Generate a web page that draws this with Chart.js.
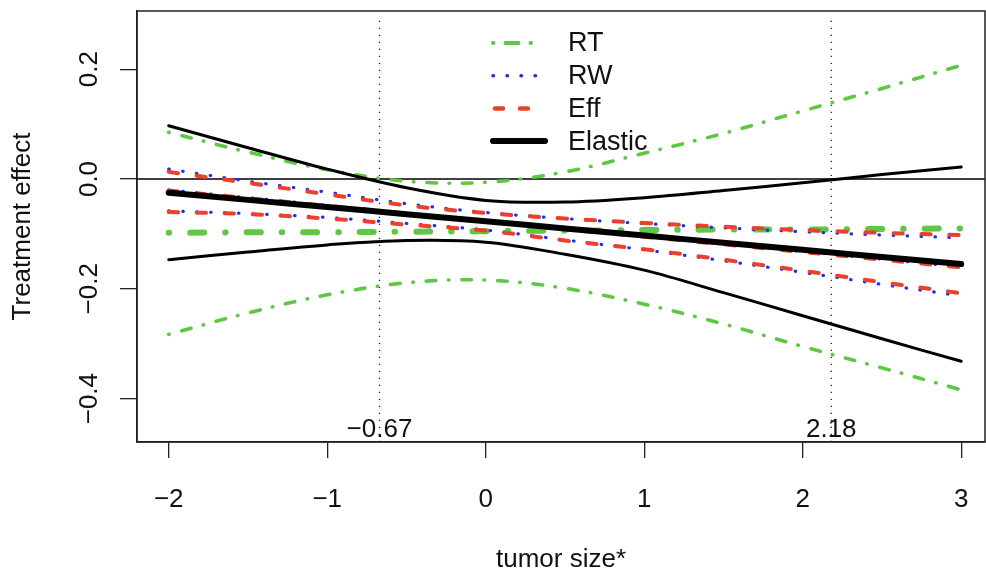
<!DOCTYPE html>
<html>
<head>
<meta charset="utf-8">
<script src="https://cdn.jsdelivr.net/npm/chart.js@4.4.0/dist/chart.umd.min.js"></script>
<style>
  html, body { margin: 0; padding: 0; background: #fff; }
  canvas { display: block; }
</style>
</head>
<body>
<canvas id="effectChart" width="986" height="570"></canvas>
<script>
// values
const tumorSize = [-2, -1.5, -1, -0.5, 0, 0.5, 1, 1.5, 2, 2.5, 3];

const rtMid = [-0.098, -0.097, -0.097, -0.096, -0.095, -0.094, -0.093, -0.092, -0.092, -0.091, -0.090];
const rtUp  = [0.085, 0.049, 0.017, -0.004, -0.006, 0.013, 0.047, 0.083, 0.124, 0.165, 0.207];
const rtLow = [-0.283, -0.244, -0.211, -0.189, -0.184, -0.199, -0.228, -0.264, -0.305, -0.344, -0.384];

const rwMid = [-0.020, -0.034, -0.048, -0.062, -0.076, -0.090, -0.104, -0.118, -0.132, -0.146, -0.160];
const rwUp  = [0.018, -0.004, -0.024, -0.045, -0.061, -0.072, -0.081, -0.089, -0.096, -0.102, -0.107];
const rwLow = [-0.058, -0.063, -0.070, -0.081, -0.093, -0.111, -0.129, -0.149, -0.170, -0.192, -0.213];

const effMid = [-0.021, -0.035, -0.049, -0.063, -0.077, -0.091, -0.105, -0.119, -0.133, -0.147, -0.161];
const effUp  = [0.013, -0.007, -0.028, -0.048, -0.062, -0.072, -0.080, -0.087, -0.093, -0.098, -0.102];
const effLow = [-0.060, -0.064, -0.072, -0.083, -0.094, -0.112, -0.128, -0.147, -0.167, -0.188, -0.208];

const elMid = [-0.025, -0.038, -0.051, -0.064, -0.077, -0.090, -0.103, -0.116, -0.129, -0.142, -0.155];
const elUp  = [0.097, 0.057, 0.018, -0.016, -0.039, -0.042, -0.034, -0.021, -0.007, 0.008, 0.022];
const elLow = [-0.147, -0.133, -0.120, -0.112, -0.115, -0.137, -0.166, -0.207, -0.249, -0.291, -0.332];

const cutoffs = [-0.67, 2.18];
const cutoffLabels = ["\u22120.67", "2.18"];

const xTicks = [-2, -1, 0, 1, 2, 3];
const yTicks = [-0.4, -0.2, 0, 0.2];
const xRange = [-2.2, 3.15];
const yRange = [-0.479, 0.306];

const legendLabels = ["RT", "RW", "Eff", "Elastic"];

const FONT = "'Liberation Sans', Arial, Helvetica, sans-serif";
const GREEN = "#5ec744";
const BLUE = "#1f2cf5";
const RED = "#ec3f2e";
const BLACK = "#000000";

function pts(ys) {
    return ys.map((y, i) => ({ x: tumorSize[i], y: y }));
}

function curve(ys, color, width, dash, order) {
    return {
        data: pts(ys),
        borderColor: color,
        borderWidth: width,
        borderDash: dash,
        borderCapStyle: "round",
        pointRadius: 0,
        tension: 0.35,
        fill: false,
        order: order
    };
}

// dot-dash starts with the dot, as R draws it
const rtThin = [0.5, 13, 9.7, 12.5];
const rtThick = [0.5, 21, 14, 21];
const effDash = [9.3, 18.7];
const rwDot = [0.5, 13.5];

let datasets = [
    curve(elMid, BLACK, 6, [], 1),
    curve(elUp, BLACK, 3, [], 2),
    curve(elLow, BLACK, 3, [], 3),
    curve(effMid, RED, 4, effDash, 4),
    curve(effUp, RED, 4, effDash, 5),
    curve(effLow, RED, 4, effDash, 6),
    curve(rwMid, BLUE, 3.2, rwDot, 7),
    curve(rwUp, BLUE, 3.2, rwDot, 8),
    curve(rwLow, BLUE, 3.2, rwDot, 9),
    curve(rtMid, GREEN, 6, rtThick, 10),
    curve(rtUp, GREEN, 3.6, rtThin, 11),
    curve(rtLow, GREEN, 3.6, rtThin, 12),
    {
        data: [{ x: xRange[0], y: 0 }, { x: xRange[1], y: 0 }],
        borderColor: BLACK, borderWidth: 1.4, pointRadius: 0, order: 13
    }
];

cutoffs.forEach(c => {
    datasets.push({
        data: [{ x: c, y: yRange[0] }, { x: c, y: 0.296 }],
        borderColor: "#222", borderWidth: 1.3, borderDash: [1.3, 5.7],
        pointRadius: 0, order: 14
    });
});

const framePlugin = {
    id: "frame",
    afterDraw(chart) {
        let ctx = chart.ctx;
        let area = chart.chartArea;
        let xs = chart.scales.x;

        ctx.save();
        ctx.strokeStyle = "#222";
        ctx.lineWidth = 1.5;
        ctx.strokeRect(area.left, area.top, area.right - area.left, area.bottom - area.top);

        // cutoff values under the dotted lines
        ctx.fillStyle = "#111";
        ctx.font = "26px " + FONT;
        ctx.textAlign = "center";
        ctx.textBaseline = "alphabetic";
        cutoffs.forEach((c, i) => {
            ctx.fillText(cutoffLabels[i], xs.getPixelForValue(c), area.bottom - 5);
        });

        // legend
        let styles = [
            { color: GREEN, width: 4, dash: [0.5, 12, 13, 12], from: 493, to: 533 },
            { color: BLUE, width: 3.5, dash: rwDot, from: 493, to: 536 },
            { color: RED, width: 4.5, dash: [8, 17], from: 495, to: 531 },
            { color: BLACK, width: 6, dash: [], from: 493, to: 545 }
        ];
        legendLabels.forEach((label, i) => {
            let y = 43 + i * 32.7;
            let st = styles[i];
            ctx.beginPath();
            ctx.setLineDash(st.dash);
            ctx.lineCap = "round";
            ctx.strokeStyle = st.color;
            ctx.lineWidth = st.width;
            ctx.moveTo(st.from, y);
            ctx.lineTo(st.to, y);
            ctx.stroke();
            ctx.setLineDash([]);
            ctx.fillStyle = "#111";
            ctx.font = "27px " + FONT;
            ctx.textAlign = "left";
            ctx.textBaseline = "middle";
            ctx.fillText(label, 568, y + 1);
        });
        ctx.restore();
    }
};

let ctx = document.getElementById("effectChart");
let effectChart = new Chart(ctx, {
    type: "line",
    data: { datasets: datasets },
    options: {
        responsive: false,
        animation: false,
        devicePixelRatio: 1,
        layout: { padding: { top: 11, right: 1, left: 0, bottom: 0 } },
        plugins: {
            legend: { display: false },
            tooltip: { enabled: false }
        },
        scales: {
            x: {
                type: "linear",
                min: xRange[0],
                max: xRange[1],
                afterBuildTicks: scale => { scale.ticks = xTicks.map(v => ({ value: v })); },
                afterFit: scale => {
                    scale.height = 128;
                    scale.paddingLeft = 0;
                    scale.paddingRight = 0;
                },
                grid: { drawOnChartArea: false, drawTicks: true, tickLength: 16, color: "#222", lineWidth: 1.3 },
                border: { display: true, color: "#222", width: 1.5 },
                ticks: {
                    padding: 26,
                    color: "#111",
                    font: { family: FONT, size: 26 },
                    maxRotation: 0,
                    callback: v => (v < 0 ? "\u2212" + Math.abs(v) : String(v))
                },
                title: {
                    display: true,
                    text: "tumor size*",
                    color: "#111",
                    font: { family: FONT, size: 26, lineHeight: 0.8 },
                    padding: 0
                }
            },
            y: {
                type: "linear",
                min: yRange[0],
                max: yRange[1],
                afterBuildTicks: scale => { scale.ticks = yTicks.map(v => ({ value: v })); },
                afterFit: scale => {
                    scale.width = 137;
                    scale.paddingTop = 0;
                    scale.paddingBottom = 0;
                },
                grid: { drawOnChartArea: false, drawTicks: true, tickLength: 17, color: "#222", lineWidth: 1.3 },
                border: { display: true, color: "#222", width: 1.5 },
                ticks: {
                    padding: 5,
                    color: "#111",
                    font: { family: FONT, size: 26 },
                    minRotation: 90,
                    maxRotation: 90,
                    crossAlign: "center",
                    callback: v => (v < 0 ? "\u2212" + Math.abs(v).toFixed(1) : v.toFixed(1))
                },
                title: {
                    display: true,
                    text: "Treatment effect",
                    color: "#111",
                    font: { family: FONT, size: 26 },
                    padding: { top: 7, bottom: 0 }
                }
            }
        }
    },
    plugins: [framePlugin]
});
</script>
</body>
</html>
